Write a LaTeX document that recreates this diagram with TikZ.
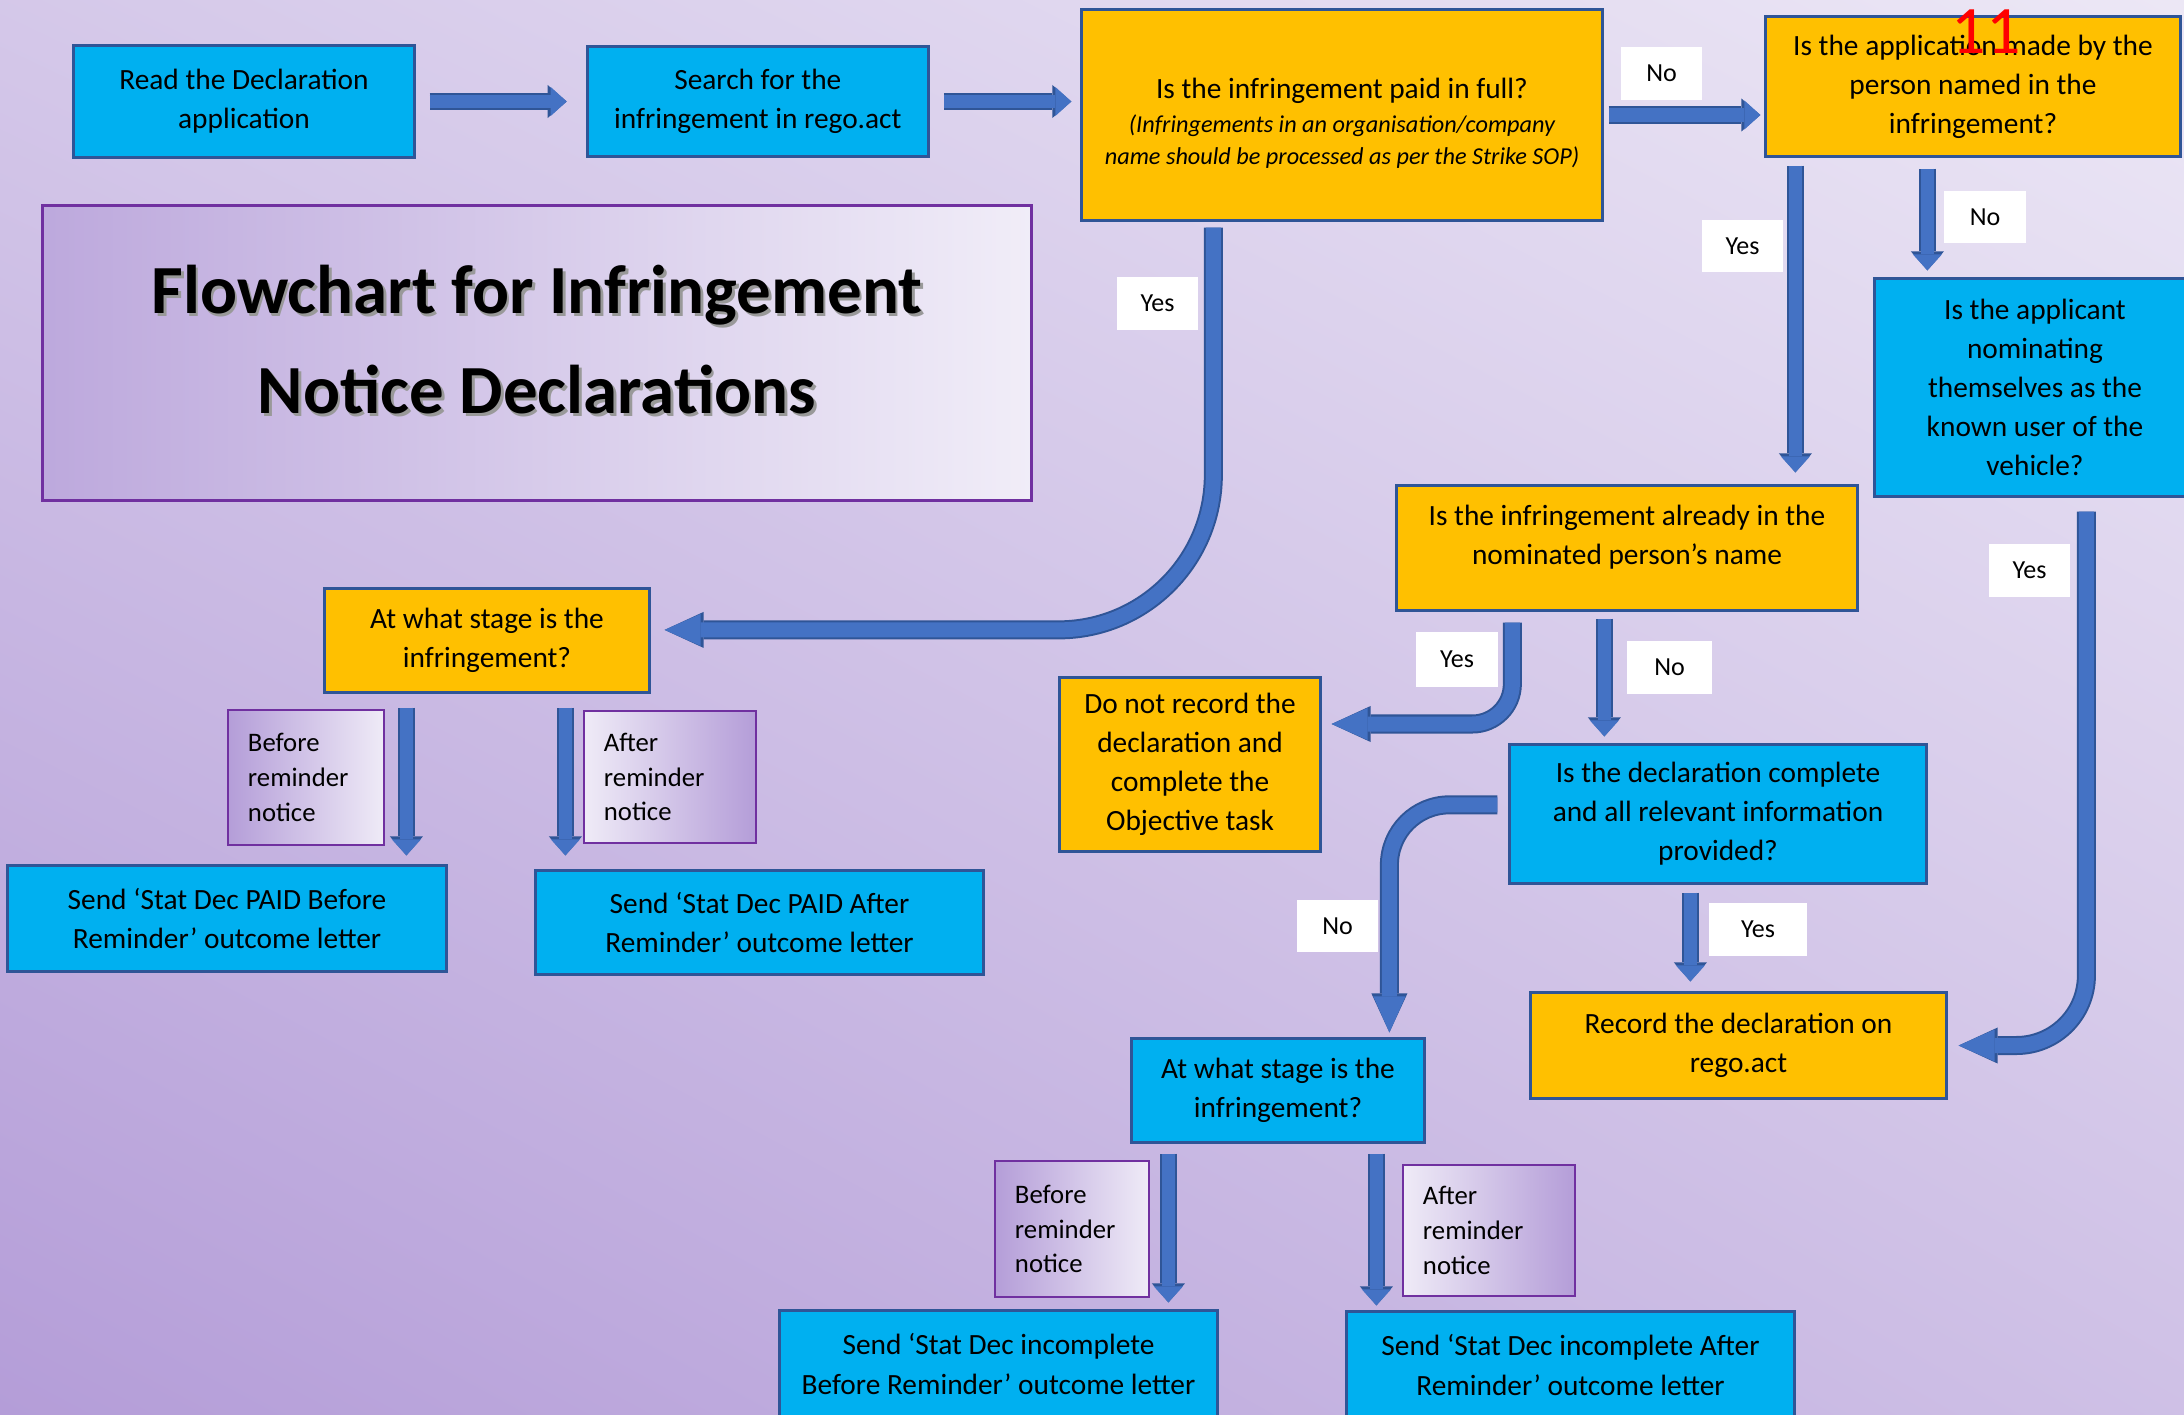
\documentclass[tikz,border=0pt]{standalone}
\usepackage{fontspec}
\setmainfont{Carlito}
\usepackage{tikz}
\usetikzlibrary{arrows.meta, calc, positioning, shadings}
\definecolor{edge}{HTML}{2F5597}
\definecolor{cyanfill}{HTML}{00B0F0}
\definecolor{amberfill}{HTML}{FFC000}
\definecolor{arrowfill}{HTML}{4472C4}
\definecolor{plum}{HTML}{7030A0}
\definecolor{lilacdark}{HTML}{B49DD8}
\definecolor{lilaclight}{HTML}{EFEBF7}
\newcommand{\bodyfont}{\fontsize{8.35}{11.1}\selectfont}
\newcommand{\asidefont}{\fontsize{6.9}{9.1}\selectfont\itshape}
\newcommand{\tagfont}{\fontsize{7.4}{9}\selectfont}
\newcommand{\notefont}{\fontsize{7.6}{9.9}\selectfont}
\newcommand{\headfont}{\fontsize{19.6}{28.4}\selectfont\bfseries}

\begin{document}
\begin{tikzpicture}[
    x=0.01cm, y=-0.01cm,
    box/.style={rectangle, draw=edge, line width=0.03cm, align=center, inner sep=0pt, font=\bodyfont},
    cyanbox/.style={box, fill=cyanfill},
    amberbox/.style={box, fill=amberfill},
    tag/.style={rectangle, fill=white, inner sep=0pt, font=\tagfont, minimum width=0.81cm, minimum height=0.52cm},
    notebox/.style={rectangle, draw=plum, line width=0.02cm, align=left, inner xsep=0.2cm, inner ysep=0pt, font=\notefont},
    arrow/.style={draw=arrowfill, line width=0.13cm, -{Triangle[width=0.29cm, length=0.16cm, line width=0pt]},
        preaction={draw=edge, line width=0.17cm, -{Triangle[width=0.33cm, length=0.19cm, line width=0pt]}}},
    bendarrow/.style={draw=arrowfill, line width=0.15cm, -{Triangle[width=0.32cm, length=0.36cm, line width=0pt]},
        preaction={draw=edge, line width=0.19cm, -{Triangle[width=0.36cm, length=0.39cm, line width=0pt]}}}
]
    % Background
    \useasboundingbox (0,0) rectangle (2184,1415);
    \shade [upper left=lilacdark!45!lilaclight, upper right=lilaclight!95!lilacdark, lower left=lilacdark, lower right=lilacdark!55!lilaclight] (0,0) rectangle (2184,1415);

    % Nodes
    \node (read) [cyanbox, minimum width=3.40cm, minimum height=1.11cm] at (244,101.5) {Read the Declaration\\application};
    \node (search) [cyanbox, minimum width=3.41cm, minimum height=1.10cm, right=1.70cm of read] {Search for the\\infringement in rego.act};
    \node (paid) [amberbox, minimum width=5.20cm, minimum height=2.10cm, text height=1.03cm] at (1342,115) {Is the infringement paid in full?\\[-1.4pt]{\asidefont (Infringements in an organisation/company}\\[-2pt]{\asidefont name should be processed as per the Strike SOP)}};
    \node (named) [amberbox, minimum width=4.14cm, minimum height=1.39cm] at (1973,86.5) {Is the application made by the\\person named in the\\infringement?};
    \node (nominating) [cyanbox, minimum width=3.20cm, minimum height=2.17cm] at (2035,387.5) {Is the applicant\\nominating\\themselves as the\\known user of the\\vehicle?};
    \node (already) [amberbox, minimum width=4.60cm, minimum height=1.24cm, text depth=0.26cm] at (1627,548) {Is the infringement already in the\\nominated person’s name};
    \node (stagepaid) [amberbox, minimum width=3.24cm, minimum height=1.03cm] at (487,640.5) {At what stage is the\\infringement?};
    \node (donot) [amberbox, minimum width=2.60cm, minimum height=1.73cm] at (1190,764.5) {Do not record the\\declaration and\\complete the\\Objective task};
    \node (complete) [cyanbox, minimum width=4.16cm, minimum height=1.38cm] at (1718,814) {Is the declaration complete\\and all relevant information\\provided?};
    \node (record) [amberbox, minimum width=4.15cm, minimum height=1.05cm] at (1738.5,1045.5) {Record the declaration on\\rego.act};
    \node (stageinc) [cyanbox, minimum width=2.92cm, minimum height=1.03cm] at (1278,1090.5) {At what stage is the\\infringement?};
    \node (paidbefore) [cyanbox, minimum width=4.38cm, minimum height=1.05cm] at (227,918.5) {Send ‘Stat Dec PAID Before\\Reminder’ outcome letter};
    \node (paidafter) [cyanbox, minimum width=4.47cm, minimum height=1.03cm] at (759.5,922.5) {Send ‘Stat Dec PAID After\\Reminder’ outcome letter};
    \node (incbefore) [cyanbox, minimum width=4.37cm, minimum height=1.06cm] at (998.5,1364) {Send ‘Stat Dec incomplete\\Before Reminder’ outcome letter};
    \node (incafter) [cyanbox, minimum width=4.47cm, minimum height=1.06cm] at (1570.5,1365) {Send ‘Stat Dec incomplete After\\Reminder’ outcome letter};

    % Title
    \node (titlebox) [rectangle, draw=plum, line width=0.03cm, left color=lilacdark!85!lilaclight, right color=lilaclight!90!white, minimum width=9.88cm, minimum height=2.94cm] at (537,353) {};
    \node [font=\headfont, align=center, text=black!40] at ($(titlebox.center)+(2.5,-10.5)$) {Flowchart for Infringement\\Notice Declarations};
    \node (title) [font=\headfont, align=center] at ($(titlebox.center)+(0,-13)$) {Flowchart for Infringement\\Notice Declarations};

    % Stage notes
    \node (beforepaid) [notebox, left color=lilacdark, right color=lilaclight, text width=1.16cm, minimum width=1.56cm, minimum height=1.35cm] at (306,777.5) {Before\\reminder\\notice};
    \node (afterpaid) [notebox, left color=lilaclight, right color=lilacdark, text width=1.32cm, minimum width=1.72cm, minimum height=1.32cm] at (670,777) {After\\reminder\\notice};
    \node (beforeinc) [notebox, left color=lilacdark, right color=lilaclight, text width=1.14cm, minimum width=1.54cm, minimum height=1.36cm] at (1072,1229) {Before\\reminder\\notice};
    \node (afterinc) [notebox, left color=lilaclight, right color=lilacdark, text width=1.32cm, minimum width=1.72cm, minimum height=1.31cm] at (1489,1230.5) {After\\reminder\\notice};

    % Paths
    \coordinate (fromPaid) at ($(paid.south west)+(133,0)$);
    \coordinate (toStagePaid) at ($(stagepaid.north east)!0.4!(stagepaid.south east)$);
    \coordinate (namedYes) at ($(named.south west)+(31,0)$);
    \coordinate (namedNo) at ($(named.south west)+(163,0)$);
    \coordinate (selfYes) at ($(nominating.south west)+(213,0)$);
    \coordinate (alreadyYes) at ($(already.south west)+(117,0)$);
    \coordinate (toDonot) at ($(donot.north east)!0.27!(donot.south east)$);
    \coordinate (alreadyNo) at ($(already.south west)+(209,0)$);
    \coordinate (completeNo) at ($(complete.north west)!0.435!(complete.south west)$);
    \coordinate (toStageInc) at ($(stageinc.north west)+(259,0)$);
    \coordinate (completeYes) at ($(complete.south west)+(182,0)$);
    \coordinate (paidBefore) at ($(stagepaid.south west)+(83,0)$);
    \coordinate (paidAfter) at ($(stagepaid.south west)+(242,0)$);
    \coordinate (incBefore) at ($(stageinc.south west)+(38,0)$);
    \coordinate (incAfter) at ($(stageinc.south west)+(246,0)$);

    \draw [arrow, shorten <=0.14cm, shorten >=0.19cm] (read.east) -- (read.east -| search.west);
    \draw [arrow, shorten <=0.14cm, shorten >=0.09cm] (search.east) -- (search.east -| paid.west);
    \draw [arrow, shorten <=0.05cm, shorten >=0.04cm] (paid.east) -- (paid.east -| named.west);
    \draw [bendarrow, rounded corners=1.55cm, shorten <=0.06cm, shorten >=0.14cm] (fromPaid) |- (toStagePaid);
    \draw [arrow, shorten <=0.08cm, shorten >=0.12cm] (namedYes) -- (namedYes |- already.north);
    \draw [arrow, shorten <=0.11cm, shorten >=0.07cm] (namedNo) -- (namedNo |- nominating.north);
    \draw [bendarrow, rounded corners=0.7cm, shorten <=0.14cm, shorten >=0.11cm] (selfYes) |- (record.east);
    \draw [bendarrow, rounded corners=0.4cm, shorten <=0.11cm, shorten >=0.10cm] (alreadyYes) |- (toDonot);
    \draw [arrow, shorten <=0.07cm, shorten >=0.07cm] (alreadyNo) -- (alreadyNo |- complete.north);
    \draw [bendarrow, rounded corners=0.6cm, shorten <=0.11cm, shorten >=0.05cm] (completeNo) -| (toStageInc); % goes round to the left
    \draw [arrow, shorten <=0.08cm, shorten >=0.10cm] (completeYes) -- (completeYes |- record.north);
    \draw [arrow, shorten <=0.14cm, shorten >=0.09cm] (paidBefore) -- (paidBefore |- paidbefore.north);
    \draw [arrow, shorten <=0.14cm, shorten >=0.14cm] (paidAfter) -- (paidAfter |- paidafter.north);
    \draw [arrow, shorten <=0.10cm, shorten >=0.07cm] (incBefore) -- (incBefore |- incbefore.north);
    \draw [arrow, shorten <=0.10cm, shorten >=0.05cm] (incAfter) -- (incAfter |- incafter.north);

    % Labels
    \node (nopaid) [tag] at (1661.5,73.5) {No};
    \node (yespaid) [tag] at (1157.5,303.5) {Yes};
    \node (yesnamed) [tag] at (1742.5,246) {Yes};
    \node (nonamed) [tag] at (1985,217) {No};
    \node (yesself) [tag] at (2029.5,570.5) {Yes};
    \node (yesalready) [tag, minimum height=0.55cm] at (1457,659.5) {Yes};
    \node (noalready) [tag, minimum width=0.85cm] at (1669.5,667.5) {No};
    \node (nocomplete) [tag] at (1337.5,926) {No};
    \node (yescomplete) [tag, minimum width=0.98cm] at (1758,929.5) {Yes};
    \node (pagemark) [text=red, inner sep=0pt, font=\fontsize{19.3}{20}\selectfont] at (1986,31.5) {11};
\end{tikzpicture}
\end{document}
